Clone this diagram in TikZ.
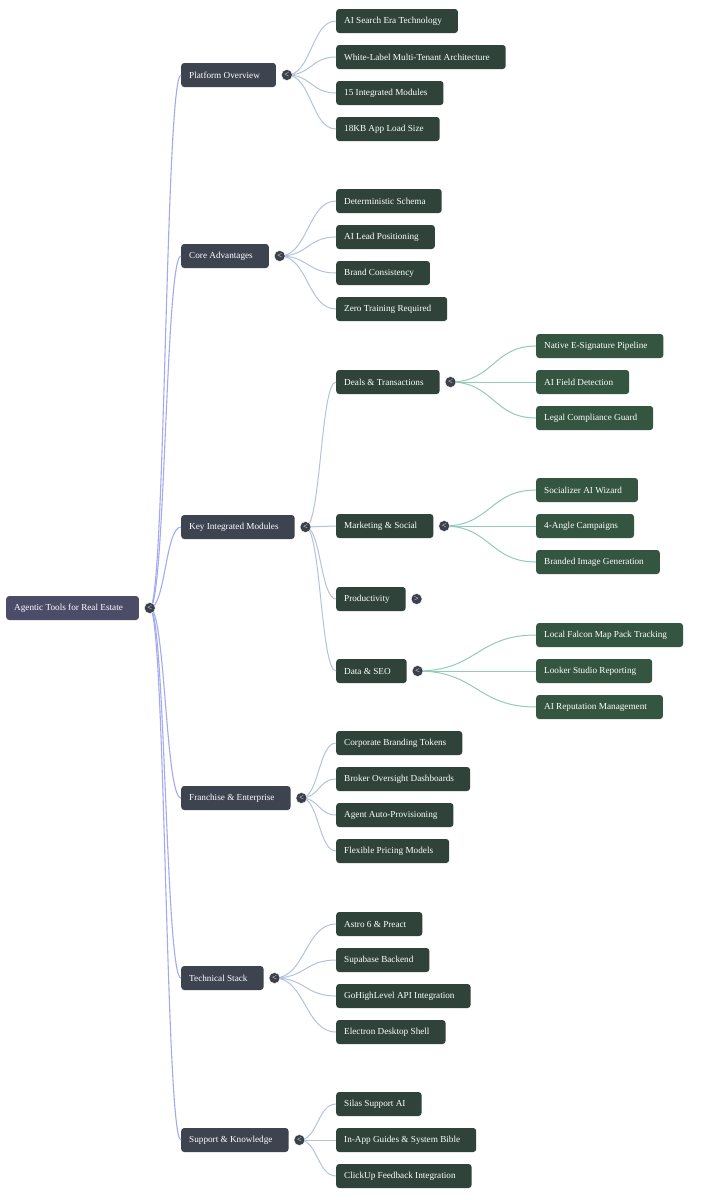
\documentclass[tikz,border=0pt]{standalone}
\usepackage{fontspec}
\setmainfont{Liberation Serif}
\usetikzlibrary{calc}
\definecolor{rootfill}{HTML}{4B4D68}
\definecolor{lonefill}{HTML}{3E4350}
\definecolor{ltwofill}{HTML}{2F433A}
\definecolor{lthreefill}{HTML}{345540}
\definecolor{togfill}{HTML}{3B404B}
\definecolor{rootlink}{HTML}{A4A9F0}
\definecolor{lonelink}{HTML}{B4C3DD}
\definecolor{ltwolink}{HTML}{92CBBB}
\tikzset{
  mmbox/.style={anchor=west, rounded corners=3pt, minimum height=24pt, inner xsep=0pt, inner ysep=0pt,
    text=white, font=\fontsize{9.2}{10}\selectfont,
    execute at begin node={\hspace*{8pt}}, execute at end node={\hspace*{16pt}}},
  rootbox/.style={mmbox, fill=rootfill},
  lonebox/.style={mmbox, fill=lonefill},
  ltwobox/.style={mmbox, fill=ltwofill},
  lthreebox/.style={mmbox, fill=lthreefill},
  toggle/.style={circle, fill=togfill, draw=white, line width=0.4pt, minimum size=11pt, inner sep=0pt,
    text=white, font=\fontsize{8.5}{8.5}\selectfont},
  rootedge/.style={draw=rootlink, line width=1.1pt},
  loneedge/.style={draw=lonelink, line width=1pt},
  ltwoedge/.style={draw=ltwolink, line width=1pt},
}
\newcommand{\mmlink}[3]{\draw[#3] let \p1=(#1.center), \p2=(#2.west) in (\p1) .. controls ({(\x1+\x2)/2},\y1) and ({(\x1+\x2)/2},\y2) .. (\p2);}
\begin{document}
\begin{tikzpicture}[x=1pt,y=-1pt]
\fill[white] (0,0) rectangle (704,1200);
\useasboundingbox (0,0) rectangle (704,1200);
% nodes
\node[rootbox] (root) at (6,608) {Agentic Tools for Real Estate};
\node[lonebox] (po) at (181,75) {Platform Overview};
\node[lonebox] (ca) at (181,256) {Core Advantages};
\node[lonebox] (km) at (181,527) {Key Integrated Modules};
\node[lonebox] (fe) at (181,798) {Franchise \& Enterprise};
\node[lonebox] (ts) at (181,978) {Technical Stack};
\node[lonebox] (sk) at (181,1140) {Support \& Knowledge};
% L2
\node[ltwobox] (po1) at (336,21) {AI Search Era Technology};
\node[ltwobox] (po2) at (336,57) {White-Label Multi-Tenant Architecture};
\node[ltwobox] (po3) at (336,93) {15 Integrated Modules};
\node[ltwobox] (po4) at (336,129) {18KB App Load Size};
\node[ltwobox] (ca1) at (336,201) {Deterministic Schema};
\node[ltwobox] (ca2) at (336,237) {AI Lead Positioning};
\node[ltwobox] (ca3) at (336,273) {Brand Consistency};
\node[ltwobox] (ca4) at (336,309) {Zero Training Required};
\node[ltwobox] (km1) at (336,382) {Deals \& Transactions};
\node[ltwobox] (km2) at (336,526) {Marketing \& Social};
\node[ltwobox] (km3) at (336,599) {Productivity};
\node[ltwobox] (km4) at (336,671) {Data \& SEO};
\node[ltwobox] (fe1) at (336,743) {Corporate Branding Tokens};
\node[ltwobox] (fe2) at (336,779) {Broker Oversight Dashboards};
\node[ltwobox] (fe3) at (336,815) {Agent Auto-Provisioning};
\node[ltwobox] (fe4) at (336,851) {Flexible Pricing Models};
\node[ltwobox] (ts1) at (336,924) {Astro 6 \& Preact};
\node[ltwobox] (ts2) at (336,960) {Supabase Backend};
\node[ltwobox] (ts3) at (336,996) {GoHighLevel API Integration};
\node[ltwobox] (ts4) at (336,1032) {Electron Desktop Shell};
\node[ltwobox] (sk1) at (336,1104) {Silas Support AI};
\node[ltwobox] (sk2) at (336,1140) {In-App Guides \& System Bible};
\node[ltwobox] (sk3) at (336,1176) {ClickUp Feedback Integration};
% L3
\node[lthreebox] (d1) at (536,346) {Native E-Signature Pipeline};
\node[lthreebox] (d2) at (536,382) {AI Field Detection};
\node[lthreebox] (d3) at (536,418) {Legal Compliance Guard};
\node[lthreebox] (m1) at (536,490) {Socializer AI Wizard};
\node[lthreebox] (m2) at (536,526) {4-Angle Campaigns};
\node[lthreebox] (m3) at (536,562) {Branded Image Generation};
\node[lthreebox] (s1) at (536,635) {Local Falcon Map Pack Tracking};
\node[lthreebox] (s2) at (536,671) {Looker Studio Reporting};
\node[lthreebox] (s3) at (536,707) {AI Reputation Management};
% toggle coordinates
\coordinate (troot) at ([xshift=10.7pt]root.east);
\coordinate (tpo) at ([xshift=10.7pt]po.east);
\coordinate (tca) at ([xshift=10.7pt]ca.east);
\coordinate (tkm) at ([xshift=10.7pt]km.east);
\coordinate (tfe) at ([xshift=10.7pt]fe.east);
\coordinate (tts) at ([xshift=10.7pt]ts.east);
\coordinate (tsk) at ([xshift=10.7pt]sk.east);
\coordinate (tkm1) at ([xshift=10.7pt]km1.east);
\coordinate (tkm2) at ([xshift=10.7pt]km2.east);
\coordinate (tkm3) at ([xshift=10.7pt]km3.east);
\coordinate (tkm4) at ([xshift=10.7pt]km4.east);
% links
\foreach \c in {po,ca,km,fe,ts,sk} {\mmlink{troot}{\c}{rootedge}}
\foreach \c in {po1,po2,po3,po4} {\mmlink{tpo}{\c}{loneedge}}
\foreach \c in {ca1,ca2,ca3,ca4} {\mmlink{tca}{\c}{loneedge}}
\foreach \c in {km1,km2,km3,km4} {\mmlink{tkm}{\c}{loneedge}}
\foreach \c in {fe1,fe2,fe3,fe4} {\mmlink{tfe}{\c}{loneedge}}
\foreach \c in {ts1,ts2,ts3,ts4} {\mmlink{tts}{\c}{loneedge}}
\foreach \c in {sk1,sk2,sk3} {\mmlink{tsk}{\c}{loneedge}}
\foreach \c in {d1,d2,d3} {\mmlink{tkm1}{\c}{ltwoedge}}
\foreach \c in {m1,m2,m3} {\mmlink{tkm2}{\c}{ltwoedge}}
\foreach \c in {s1,s2,s3} {\mmlink{tkm4}{\c}{ltwoedge}}
% toggles
\foreach \t in {troot,tpo,tca,tkm,tfe,tts,tsk,tkm1,tkm2,tkm4} {\node[toggle] (\t n) at (\t) {<};}
\node[toggle] (tkm3n) at (tkm3) {>};
\end{tikzpicture}
\end{document}
